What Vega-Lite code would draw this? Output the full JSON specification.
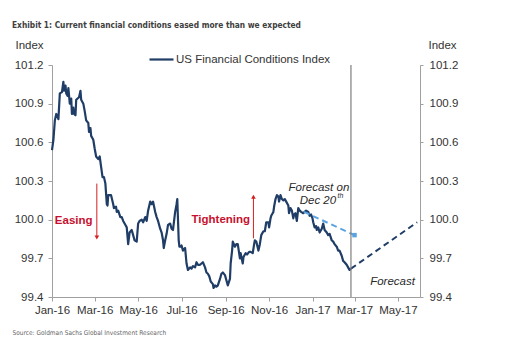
{
  "$schema": "https://vega.github.io/schema/vega-lite/v6.json",
  "width": 368,
  "height": 232,
  "autosize": {"type": "none"},
  "padding": {"left": 52, "top": 65, "right": 86, "bottom": 48},
  "background": "white",
  "config": {"view": {"stroke": null}, "font": "Liberation Sans"},
  "title": {
    "text": "Exhibit 1: Current financial conditions eased more than we expected",
    "anchor": "start",
    "frame": "group",
    "orient": "top",
    "offset": 10,
    "dx": -40,
    "font": "Liberation Sans Narrow, DejaVu Sans Condensed, Liberation Sans",
    "fontSize": 8.3,
    "fontWeight": "bold",
    "color": "#404040"
  },
  "datasets": {
    "fci": [
      {"date": "2016-01-01", "value": 100.54},
      {"date": "2016-01-03", "value": 100.62},
      {"date": "2016-01-05", "value": 100.77},
      {"date": "2016-01-07", "value": 100.82},
      {"date": "2016-01-09", "value": 100.80},
      {"date": "2016-01-10", "value": 100.78},
      {"date": "2016-01-12", "value": 100.98},
      {"date": "2016-01-15", "value": 100.99},
      {"date": "2016-01-17", "value": 101.07},
      {"date": "2016-01-18", "value": 101.00},
      {"date": "2016-01-20", "value": 101.04},
      {"date": "2016-01-21", "value": 100.98},
      {"date": "2016-01-23", "value": 100.96},
      {"date": "2016-01-24", "value": 101.02},
      {"date": "2016-01-26", "value": 100.90},
      {"date": "2016-01-28", "value": 100.94},
      {"date": "2016-01-29", "value": 100.82},
      {"date": "2016-01-31", "value": 100.87},
      {"date": "2016-02-01", "value": 100.82},
      {"date": "2016-02-03", "value": 100.81},
      {"date": "2016-02-04", "value": 100.93},
      {"date": "2016-02-08", "value": 100.95},
      {"date": "2016-02-10", "value": 101.00},
      {"date": "2016-02-11", "value": 100.93},
      {"date": "2016-02-14", "value": 100.90},
      {"date": "2016-02-16", "value": 100.84},
      {"date": "2016-02-18", "value": 100.77},
      {"date": "2016-02-21", "value": 100.75},
      {"date": "2016-02-22", "value": 100.68},
      {"date": "2016-02-24", "value": 100.71},
      {"date": "2016-02-25", "value": 100.65},
      {"date": "2016-02-28", "value": 100.62},
      {"date": "2016-03-01", "value": 100.55},
      {"date": "2016-03-03", "value": 100.49},
      {"date": "2016-03-06", "value": 100.47},
      {"date": "2016-03-08", "value": 100.49},
      {"date": "2016-03-10", "value": 100.41},
      {"date": "2016-03-12", "value": 100.33},
      {"date": "2016-03-14", "value": 100.33},
      {"date": "2016-03-16", "value": 100.28},
      {"date": "2016-03-17", "value": 100.20},
      {"date": "2016-03-18", "value": 100.12},
      {"date": "2016-03-19", "value": 100.11},
      {"date": "2016-03-20", "value": 100.19},
      {"date": "2016-03-24", "value": 100.19},
      {"date": "2016-03-27", "value": 100.12},
      {"date": "2016-03-28", "value": 100.09},
      {"date": "2016-03-31", "value": 100.10},
      {"date": "2016-04-01", "value": 100.06},
      {"date": "2016-04-03", "value": 100.07},
      {"date": "2016-04-06", "value": 100.02},
      {"date": "2016-04-08", "value": 100.02},
      {"date": "2016-04-10", "value": 99.99},
      {"date": "2016-04-13", "value": 99.96},
      {"date": "2016-04-15", "value": 99.94},
      {"date": "2016-04-17", "value": 99.81},
      {"date": "2016-04-19", "value": 99.90},
      {"date": "2016-04-22", "value": 99.92},
      {"date": "2016-04-24", "value": 99.88},
      {"date": "2016-04-26", "value": 99.84},
      {"date": "2016-04-29", "value": 99.83},
      {"date": "2016-05-01", "value": 99.97},
      {"date": "2016-05-03", "value": 99.99},
      {"date": "2016-05-06", "value": 100.00},
      {"date": "2016-05-08", "value": 99.98},
      {"date": "2016-05-11", "value": 100.02},
      {"date": "2016-05-13", "value": 99.99},
      {"date": "2016-05-15", "value": 100.07},
      {"date": "2016-05-18", "value": 100.14},
      {"date": "2016-05-20", "value": 100.12},
      {"date": "2016-05-22", "value": 100.14},
      {"date": "2016-05-25", "value": 100.06},
      {"date": "2016-05-27", "value": 100.02},
      {"date": "2016-05-29", "value": 99.99},
      {"date": "2016-06-01", "value": 99.93},
      {"date": "2016-06-03", "value": 99.90},
      {"date": "2016-06-05", "value": 99.84},
      {"date": "2016-06-06", "value": 99.78},
      {"date": "2016-06-08", "value": 99.84},
      {"date": "2016-06-10", "value": 99.89},
      {"date": "2016-06-12", "value": 99.96},
      {"date": "2016-06-15", "value": 99.97},
      {"date": "2016-06-17", "value": 99.93},
      {"date": "2016-06-19", "value": 99.92},
      {"date": "2016-06-22", "value": 100.06},
      {"date": "2016-06-24", "value": 100.12},
      {"date": "2016-06-25", "value": 100.16},
      {"date": "2016-06-27", "value": 99.84},
      {"date": "2016-06-28", "value": 99.79},
      {"date": "2016-06-30", "value": 99.79},
      {"date": "2016-07-01", "value": 99.80},
      {"date": "2016-07-03", "value": 99.76},
      {"date": "2016-07-06", "value": 99.78},
      {"date": "2016-07-08", "value": 99.66},
      {"date": "2016-07-10", "value": 99.61},
      {"date": "2016-07-13", "value": 99.63},
      {"date": "2016-07-15", "value": 99.62},
      {"date": "2016-07-17", "value": 99.64},
      {"date": "2016-07-20", "value": 99.63},
      {"date": "2016-07-22", "value": 99.67},
      {"date": "2016-07-24", "value": 99.65},
      {"date": "2016-07-27", "value": 99.65},
      {"date": "2016-07-29", "value": 99.66},
      {"date": "2016-07-31", "value": 99.67},
      {"date": "2016-08-03", "value": 99.63},
      {"date": "2016-08-05", "value": 99.59},
      {"date": "2016-08-07", "value": 99.58},
      {"date": "2016-08-09", "value": 99.56},
      {"date": "2016-08-11", "value": 99.52},
      {"date": "2016-08-14", "value": 99.50},
      {"date": "2016-08-15", "value": 99.47},
      {"date": "2016-08-17", "value": 99.49},
      {"date": "2016-08-19", "value": 99.48},
      {"date": "2016-08-21", "value": 99.49},
      {"date": "2016-08-24", "value": 99.54},
      {"date": "2016-08-26", "value": 99.58},
      {"date": "2016-08-28", "value": 99.59},
      {"date": "2016-08-31", "value": 99.57},
      {"date": "2016-09-02", "value": 99.53},
      {"date": "2016-09-04", "value": 99.49},
      {"date": "2016-09-07", "value": 99.54},
      {"date": "2016-09-08", "value": 99.66},
      {"date": "2016-09-10", "value": 99.76},
      {"date": "2016-09-11", "value": 99.83},
      {"date": "2016-09-14", "value": 99.79},
      {"date": "2016-09-16", "value": 99.81},
      {"date": "2016-09-18", "value": 99.81},
      {"date": "2016-09-21", "value": 99.70},
      {"date": "2016-09-22", "value": 99.74},
      {"date": "2016-09-25", "value": 99.66},
      {"date": "2016-09-26", "value": 99.71},
      {"date": "2016-09-29", "value": 99.74},
      {"date": "2016-10-01", "value": 99.73},
      {"date": "2016-10-04", "value": 99.75},
      {"date": "2016-10-06", "value": 99.75},
      {"date": "2016-10-09", "value": 99.74},
      {"date": "2016-10-11", "value": 99.81},
      {"date": "2016-10-12", "value": 99.84},
      {"date": "2016-10-14", "value": 99.83},
      {"date": "2016-10-17", "value": 99.76},
      {"date": "2016-10-19", "value": 99.81},
      {"date": "2016-10-21", "value": 99.88},
      {"date": "2016-10-24", "value": 99.91},
      {"date": "2016-10-26", "value": 99.91},
      {"date": "2016-10-28", "value": 99.98},
      {"date": "2016-10-31", "value": 99.98},
      {"date": "2016-11-01", "value": 99.94},
      {"date": "2016-11-03", "value": 100.01},
      {"date": "2016-11-04", "value": 100.03},
      {"date": "2016-11-07", "value": 100.06},
      {"date": "2016-11-08", "value": 100.10},
      {"date": "2016-11-10", "value": 100.16},
      {"date": "2016-11-12", "value": 100.19},
      {"date": "2016-11-14", "value": 100.18},
      {"date": "2016-11-15", "value": 100.14},
      {"date": "2016-11-17", "value": 100.19},
      {"date": "2016-11-19", "value": 100.16},
      {"date": "2016-11-21", "value": 100.15},
      {"date": "2016-11-23", "value": 100.16},
      {"date": "2016-11-25", "value": 100.14},
      {"date": "2016-11-28", "value": 100.11},
      {"date": "2016-11-29", "value": 100.05},
      {"date": "2016-12-01", "value": 100.09},
      {"date": "2016-12-03", "value": 100.07},
      {"date": "2016-12-05", "value": 100.01},
      {"date": "2016-12-06", "value": 100.04},
      {"date": "2016-12-08", "value": 100.05},
      {"date": "2016-12-10", "value": 99.99},
      {"date": "2016-12-12", "value": 100.09},
      {"date": "2016-12-14", "value": 100.07},
      {"date": "2016-12-16", "value": 100.06},
      {"date": "2016-12-19", "value": 100.05},
      {"date": "2016-12-21", "value": 100.06},
      {"date": "2016-12-23", "value": 100.07},
      {"date": "2016-12-26", "value": 100.06},
      {"date": "2016-12-28", "value": 100.03},
      {"date": "2016-12-30", "value": 100.04},
      {"date": "2017-01-01", "value": 100.01},
      {"date": "2017-01-02", "value": 99.98},
      {"date": "2017-01-04", "value": 99.94},
      {"date": "2017-01-06", "value": 99.95},
      {"date": "2017-01-07", "value": 99.92},
      {"date": "2017-01-09", "value": 99.94},
      {"date": "2017-01-11", "value": 99.90},
      {"date": "2017-01-14", "value": 99.93},
      {"date": "2017-01-16", "value": 99.97},
      {"date": "2017-01-18", "value": 99.92},
      {"date": "2017-01-21", "value": 99.90},
      {"date": "2017-01-23", "value": 99.88},
      {"date": "2017-01-25", "value": 99.89},
      {"date": "2017-01-28", "value": 99.84},
      {"date": "2017-01-30", "value": 99.83},
      {"date": "2017-02-01", "value": 99.81},
      {"date": "2017-02-04", "value": 99.79},
      {"date": "2017-02-06", "value": 99.76},
      {"date": "2017-02-08", "value": 99.76},
      {"date": "2017-02-11", "value": 99.72},
      {"date": "2017-02-13", "value": 99.68},
      {"date": "2017-02-15", "value": 99.67},
      {"date": "2017-02-18", "value": 99.65},
      {"date": "2017-02-20", "value": 99.63},
      {"date": "2017-02-22", "value": 99.61},
      {"date": "2017-02-24", "value": 99.62}
    ],
    "forecast": [
      {"date": "2017-02-24", "value": 99.62},
      {"date": "2017-05-28", "value": 99.98}
    ],
    "dec20": [
      {"date": "2016-12-20", "value": 100.06},
      {"date": "2017-03-01", "value": 99.88}
    ],
    "dec20end": [
      {"date": "2017-03-01", "value": 99.88}
    ],
    "vline": [
      {"date": "2017-02-24"}
    ],
    "arrows": [
      {"date": "2016-03-04", "from": 100.28, "to": 99.87},
      {"date": "2016-10-10", "from": 99.855, "to": 100.17}
    ],
    "heads": [
      {"date": "2016-03-04", "value": 99.862, "shape": "triangle-down"},
      {"date": "2016-10-10", "value": 100.178, "shape": "triangle-up"}
    ],
    "redlabels": [
      {"date": "2016-01-05", "value": 99.99, "label": "Easing"},
      {"date": "2016-07-15", "value": 100.0, "label": "Tightening"}
    ],
    "notecenter": [
      {"date": "2017-01-10", "value": 100.249, "label": "Forecast on"}
    ],
    "noteleft": [
      {"date": "2016-12-14", "value": 100.145, "label": "Dec 20"},
      {"date": "2017-03-23", "value": 99.517, "label": "Forecast"}
    ],
    "sup": [
      {"date": "2017-02-05", "value": 100.18, "label": "th"}
    ]
  },
  "encoding": {
    "x": {
      "field": "date",
      "type": "temporal",
      "scale": {
        "type": "utc",
        "domain": [
          {"year": 2016, "month": 1, "date": 1, "utc": true},
          {"year": 2017, "month": 6, "date": 1, "utc": true}
        ]
      },
      "axis": {
        "title": "Source: Goldman Sachs Global Investment Research",
        "titleX": -40,
        "titleY": 35,
        "titleAlign": "left",
        "titleAnchor": null,
        "titleBaseline": "middle",
        "titleFont": "Liberation Sans Narrow, DejaVu Sans Condensed, Liberation Sans",
        "titleFontSize": 6.5,
        "titleFontWeight": "normal",
        "titleColor": "#666666",
        "format": "%b-%y",
        "tickCount": {"interval": "month", "step": 2},
        "labelFlush": false,
        "labelFontSize": 11.5,
        "labelColor": "#333333",
        "labelPadding": 3,
        "tickSize": 4,
        "tickColor": "#a0a0a0",
        "domainColor": "#a0a0a0",
        "grid": false
      }
    }
  },
  "layer": [
    {
      "data": {"name": "fci"},
      "mark": {"type": "line", "strokeWidth": 2.2, "strokeJoin": "round"},
      "encoding": {
        "y": {
          "field": "value",
          "type": "quantitative",
          "scale": {"domain": [99.4, 101.2], "nice": false, "zero": false},
          "axis": {
            "orient": "left",
            "title": "Index",
            "titleAngle": 0,
            "titleX": -23,
            "titleY": -20,
            "titleAlign": "center",
            "titleAnchor": null,
            "titleBaseline": "middle",
            "titleFontSize": 11.5,
            "titleFontWeight": "normal",
            "titleColor": "#333333",
            "values": [99.4, 99.7, 100.0, 100.3, 100.6, 100.9, 101.2],
            "format": ".1f",
            "labelFontSize": 11.5,
            "labelColor": "#333333",
            "labelPadding": 5,
            "tickSize": 4,
            "tickColor": "#a0a0a0",
            "domainColor": "#a0a0a0",
            "grid": false
          }
        },
        "color": {
          "datum": "US Financial Conditions Index",
          "scale": {"range": ["#1f3d66"]},
          "legend": {
            "orient": "none",
            "legendX": 96,
            "legendY": -19,
            "title": null,
            "symbolType": "stroke",
            "symbolSize": 576,
            "symbolStrokeWidth": 2.2,
            "labelFontSize": 11.5,
            "labelColor": "#333333",
            "labelOffset": 1,
            "padding": 0
          }
        }
      }
    },
    {
      "data": {"name": "forecast"},
      "mark": {"type": "line", "strokeWidth": 2, "strokeDash": [6, 4], "color": "#1f3d66"},
      "encoding": {
        "y": {
          "field": "value",
          "type": "quantitative",
          "axis": {
            "orient": "right",
            "title": "Index",
            "titleAngle": 0,
            "titleX": 22,
            "titleY": -20,
            "titleAlign": "center",
            "titleAnchor": null,
            "titleBaseline": "middle",
            "titleFontSize": 11.5,
            "titleFontWeight": "normal",
            "titleColor": "#333333",
            "values": [99.4, 99.7, 100.0, 100.3, 100.6, 100.9, 101.2],
            "format": ".1f",
            "labelFontSize": 11.5,
            "labelColor": "#333333",
            "labelPadding": 6,
            "tickSize": 3,
            "tickColor": "#a0a0a0",
            "domainColor": "#a0a0a0",
            "grid": false
          }
        }
      }
    },
    {
      "data": {"name": "dec20"},
      "mark": {"type": "line", "strokeWidth": 2, "strokeDash": [6, 4], "color": "#5ba3e0"},
      "encoding": {"y": {"field": "value", "type": "quantitative", "axis": null}}
    },
    {
      "data": {"name": "dec20end"},
      "mark": {"type": "point", "shape": "square", "filled": true, "size": 20, "opacity": 1, "color": "#5ba3e0"},
      "encoding": {"y": {"field": "value", "type": "quantitative", "axis": null}}
    },
    {
      "data": {"name": "vline"},
      "mark": {"type": "rule", "color": "#7f7f7f", "strokeWidth": 1.2},
      "encoding": {}
    },
    {
      "data": {"name": "arrows"},
      "mark": {"type": "rule", "color": "#d42020", "strokeWidth": 1},
      "encoding": {
        "y": {"field": "from", "type": "quantitative", "axis": null},
        "y2": {"field": "to"}
      }
    },
    {
      "data": {"name": "heads"},
      "mark": {"type": "point", "filled": true, "size": 22, "opacity": 1, "color": "#d42020"},
      "encoding": {
        "y": {"field": "value", "type": "quantitative", "axis": null},
        "shape": {"field": "shape", "type": "nominal", "scale": null, "legend": null}
      }
    },
    {
      "data": {"name": "redlabels"},
      "mark": {"type": "text", "align": "left", "baseline": "middle", "fontSize": 11.5, "fontWeight": "bold", "color": "#c8102e"},
      "encoding": {
        "y": {"field": "value", "type": "quantitative", "axis": null},
        "text": {"field": "label"}
      }
    },
    {
      "data": {"name": "notecenter"},
      "mark": {"type": "text", "align": "center", "baseline": "middle", "fontSize": 11.5, "fontStyle": "italic", "color": "#2a2a2a"},
      "encoding": {
        "y": {"field": "value", "type": "quantitative", "axis": null},
        "text": {"field": "label"}
      }
    },
    {
      "data": {"name": "noteleft"},
      "mark": {"type": "text", "align": "left", "baseline": "middle", "fontSize": 11.5, "fontStyle": "italic", "color": "#2a2a2a"},
      "encoding": {
        "y": {"field": "value", "type": "quantitative", "axis": null},
        "text": {"field": "label"}
      }
    },
    {
      "data": {"name": "sup"},
      "mark": {"type": "text", "align": "left", "baseline": "middle", "fontSize": 7, "fontStyle": "italic", "color": "#2a2a2a"},
      "encoding": {
        "y": {"field": "value", "type": "quantitative", "axis": null},
        "text": {"field": "label"}
      }
    }
  ],
  "resolve": {"axis": {"y": "independent"}}
}
